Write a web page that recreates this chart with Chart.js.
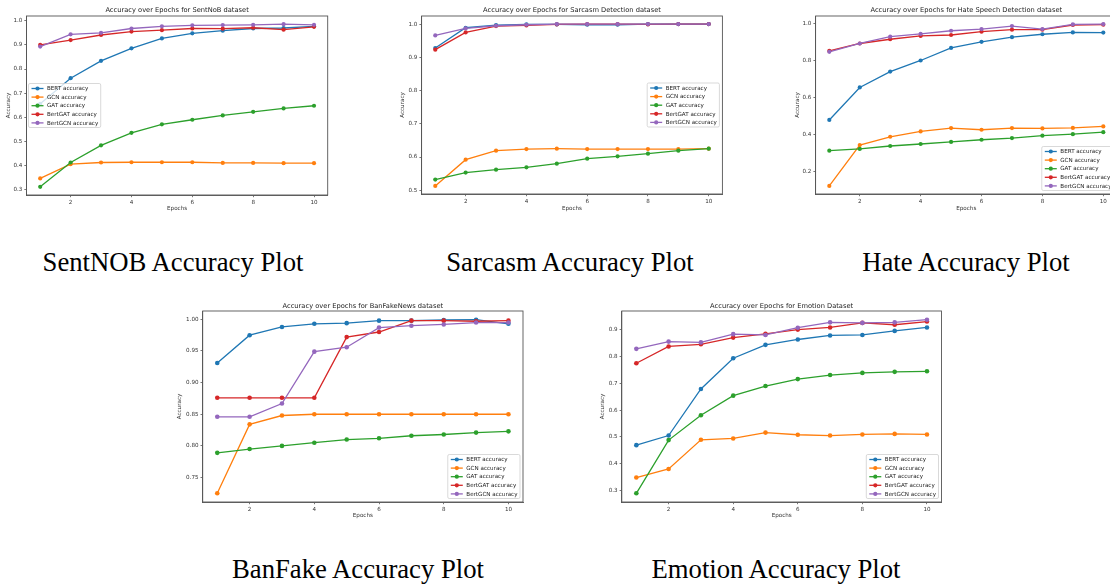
<!DOCTYPE html>
<html>
<head>
<meta charset="utf-8">
<script src="https://cdn.jsdelivr.net/npm/chart.js@4.4.0/dist/chart.umd.min.js"></script>
<style>
html,body{margin:0;padding:0;overflow:hidden}
body{width:1110px;height:584px;background:#fff;position:relative}
canvas{position:absolute}
.cap{position:absolute;font-family:"Liberation Serif","Times New Roman",serif;font-size:26.7px;line-height:26px;white-space:nowrap;transform:translateX(-50%);color:#000}
</style>
</head>
<body>
<canvas id="c1"></canvas>
<canvas id="c2"></canvas>
<canvas id="c3"></canvas>
<canvas id="c4"></canvas>
<canvas id="c5"></canvas>
<div class="cap" style="left:173px;top:249px">SentNOB Accuracy Plot</div>
<div class="cap" style="left:570px;top:249px">Sarcasm Accuracy Plot</div>
<div class="cap" style="left:966px;top:249px">Hate Accuracy Plot</div>
<div class="cap" style="left:358px;top:556px">BanFake Accuracy Plot</div>
<div class="cap" style="left:776px;top:556px">Emotion Accuracy Plot</div>
<script>
const epochs = [1, 2, 3, 4, 5, 6, 7, 8, 9, 10];
const epochTicks = [2, 4, 6, 8, 10];
const seriesNames = ["BERT accuracy", "GCN accuracy", "GAT accuracy", "BertGAT accuracy", "BertGCN accuracy"];
const seriesColors = ["#1f77b4", "#ff7f0e", "#2ca02c", "#d62728", "#9467bd"];

// SentNoB
const sentBert    = [0.656, 0.762, 0.834, 0.886, 0.927, 0.948, 0.959, 0.968, 0.970, 0.977];
const sentGcn     = [0.347, 0.406, 0.413, 0.414, 0.414, 0.414, 0.411, 0.411, 0.410, 0.410];
const sentGat     = [0.312, 0.413, 0.484, 0.536, 0.571, 0.590, 0.608, 0.623, 0.637, 0.648];
const sentBertGat = [0.900, 0.920, 0.941, 0.955, 0.961, 0.968, 0.967, 0.971, 0.963, 0.975];
const sentBertGcn = [0.893, 0.944, 0.950, 0.968, 0.977, 0.981, 0.982, 0.983, 0.986, 0.983];
const sentTicks   = [0.3, 0.4, 0.5, 0.6, 0.7, 0.8, 0.9, 1.0];

// Sarcasm
const sarcBert    = [0.928, 0.989, 0.997, 0.999, 0.999, 0.998, 0.998, 1.0, 1.0, 1.0];
const sarcGcn     = [0.513, 0.592, 0.619, 0.624, 0.625, 0.624, 0.624, 0.624, 0.624, 0.625];
const sarcGat     = [0.532, 0.553, 0.562, 0.569, 0.580, 0.595, 0.602, 0.610, 0.619, 0.625];
const sarcBertGat = [0.923, 0.975, 0.994, 0.996, 0.999, 1.0, 1.0, 0.999, 1.0, 1.0];
const sarcBertGcn = [0.966, 0.987, 0.995, 0.998, 1.0, 1.0, 1.0, 1.0, 1.0, 1.0];
const sarcTicks   = [0.5, 0.6, 0.7, 0.8, 0.9, 1.0];

// Hate speech
const hateBert    = [0.479, 0.655, 0.741, 0.801, 0.869, 0.902, 0.927, 0.943, 0.953, 0.952];
const hateGcn     = [0.122, 0.343, 0.388, 0.417, 0.435, 0.426, 0.435, 0.433, 0.436, 0.444];
const hateGat     = [0.313, 0.322, 0.338, 0.349, 0.360, 0.372, 0.381, 0.394, 0.402, 0.413];
const hateBertGat = [0.853, 0.893, 0.916, 0.934, 0.939, 0.957, 0.968, 0.968, 0.993, 0.995];
const hateBertGcn = [0.848, 0.893, 0.930, 0.945, 0.962, 0.971, 0.987, 0.971, 0.996, 0.998];
const hateTicks   = [0.2, 0.4, 0.6, 0.8, 1.0];

// BanFakeNews
const fakeBert    = [0.931, 0.975, 0.988, 0.993, 0.994, 0.998, 0.998, 0.999, 0.9995, 0.993];
const fakeGcn     = [0.725, 0.834, 0.848, 0.850, 0.850, 0.850, 0.850, 0.850, 0.850, 0.850];
const fakeGat     = [0.789, 0.795, 0.800, 0.805, 0.810, 0.812, 0.816, 0.818, 0.821, 0.823];
const fakeBertGat = [0.876, 0.876, 0.876, 0.876, 0.972, 0.980, 0.998, 0.998, 0.997, 0.998];
const fakeBertGcn = [0.846, 0.846, 0.867, 0.949, 0.956, 0.987, 0.990, 0.992, 0.995, 0.995];
const fakeTicks   = [0.75, 0.80, 0.85, 0.90, 0.95, 1.00];

// Emotion
const emoBert    = [0.469, 0.505, 0.679, 0.794, 0.844, 0.864, 0.879, 0.881, 0.896, 0.909];
const emoGcn     = [0.348, 0.380, 0.489, 0.494, 0.516, 0.508, 0.505, 0.509, 0.511, 0.509];
const emoGat     = [0.289, 0.488, 0.581, 0.654, 0.690, 0.716, 0.731, 0.739, 0.743, 0.745];
const emoBertGat = [0.775, 0.838, 0.846, 0.871, 0.885, 0.901, 0.909, 0.926, 0.919, 0.931];
const emoBertGcn = [0.829, 0.856, 0.853, 0.884, 0.881, 0.908, 0.928, 0.926, 0.928, 0.938];
const emoTicks   = [0.3, 0.4, 0.5, 0.6, 0.7, 0.8, 0.9];

const FONT = '"DejaVu Sans", sans-serif';

// axes frame (top/right spines too)
const spines = {
  id: 'spines',
  afterDatasetsDraw(chart) {
    const {ctx, chartArea: a} = chart;
    ctx.save();
    ctx.strokeStyle = '#555';
    ctx.lineWidth = 0.9;
    ctx.strokeRect(a.left, a.top, a.width, a.height);
    ctx.restore();
  }
};

// matplotlib-like legend drawn inside the axes
const boxLegend = {
  id: 'boxLegend',
  afterDatasetsDraw(chart, args, opts) {
    const {ctx, chartArea: a} = chart;
    const sets = chart.data.datasets;
    const fs = 5.6, rowH = 8.6;
    ctx.save();
    ctx.font = fs + 'px ' + FONT;
    const tw = Math.max(...sets.map(d => ctx.measureText(d.label).width));
    const w = 3 + 12 + 3.5 + tw + 2.5;
    const h = rowH * (sets.length - 1) + 9.6;
    const x = opts.loc.includes('left') ? a.left + 2 : a.right - 3 - w;
    const y = opts.loc.includes('lower') ? a.bottom - 3.5 - h : (a.top + a.bottom) / 2 - h / 2;
    ctx.fillStyle = 'rgba(255,255,255,0.8)';
    ctx.strokeStyle = '#cfcfcf';
    ctx.lineWidth = 0.8;
    ctx.beginPath();
    ctx.roundRect(x, y, w, h, 1.5);
    ctx.fill();
    ctx.stroke();
    sets.forEach((d, i) => {
      const ry = y + 5 + i * rowH;
      ctx.strokeStyle = d.borderColor;
      ctx.lineWidth = 1.3;
      ctx.beginPath();
      ctx.moveTo(x + 3, ry);
      ctx.lineTo(x + 15, ry);
      ctx.stroke();
      ctx.fillStyle = d.borderColor;
      ctx.beginPath();
      ctx.arc(x + 9, ry, 2.1, 0, Math.PI * 2);
      ctx.fill();
      ctx.fillStyle = '#222';
      ctx.textBaseline = 'middle';
      ctx.fillText(d.label, x + 18.5, ry + 0.3);
    });
    ctx.restore();
  }
};

function makeChart(p) {
  const el = document.getElementById(p.id);
  el.width = p.canvas.w;
  el.height = p.canvas.h;
  el.style.left = p.canvas.left + 'px';
  el.style.top = p.canvas.top + 'px';

  const all = p.series.flat();
  const lo = Math.min(...all), hi = Math.max(...all);
  const m = (hi - lo) * 0.05;
  const titleSize = 6.7, lh = titleSize * 1.2;
  const tPadTop = p.titleY - p.canvas.top - lh / 2;
  const tPadBot = p.box.t - p.canvas.top - tPadTop - lh;
  const labelLH = 5.6 * 1.2;

  const tickFont = {family: FONT, size: 5.6};
  new Chart(el, {
    type: 'line',
    data: {
      datasets: p.series.map((vals, i) => ({
        label: seriesNames[i],
        data: epochs.map((e, k) => ({x: e, y: vals[k]})),
        borderColor: seriesColors[i],
        backgroundColor: seriesColors[i],
        borderWidth: 1.3,
        pointRadius: p.marker,
        pointBorderWidth: 0,
        tension: 0,
        fill: false,
        order: seriesNames.length - 1 - i
      }))
    },
    options: {
      responsive: false,
      animation: false,
      devicePixelRatio: 1,
      layout: {padding: {left: 0, top: 0, bottom: 0, right: p.canvas.left + p.canvas.w - p.box.r}},
      plugins: {
        legend: {display: false},
        tooltip: {enabled: false},
        title: {
          display: true, text: p.title, fullSize: false, color: '#222',
          font: {family: FONT, size: titleSize, weight: 'normal', lineHeight: 1.2},
          padding: {top: tPadTop, bottom: tPadBot}
        },
        boxLegend: {loc: p.loc}
      },
      scales: {
        x: {
          type: 'linear', min: 0.55, max: 10.45,
          afterBuildTicks: s => { s.ticks = epochTicks.map(v => ({value: v})); },
          afterFit: s => { s.height = p.canvas.top + p.canvas.h - p.box.b; },
          grid: {display: true, drawOnChartArea: false, drawTicks: true, tickLength: 2.2, tickColor: '#555', tickWidth: 0.8},
          border: {display: true, color: '#555', width: 0.9},
          ticks: {font: tickFont, color: '#333', padding: 1.8, maxRotation: 0, autoSkip: false},
          title: {display: true, text: 'Epochs', color: '#333', font: {family: FONT, size: 5.6, lineHeight: 1.2},
                  padding: {top: 0, bottom: p.canvas.top + p.canvas.h - p.xlabelY - labelLH / 2}}
        },
        y: {
          type: 'linear', min: lo - m, max: hi + m,
          afterBuildTicks: s => { s.ticks = p.yTicks.map(v => ({value: v})); },
          afterFit: s => { s.width = p.box.l - p.canvas.left; },
          grid: {display: true, drawOnChartArea: false, drawTicks: true, tickLength: 2.2, tickColor: '#555', tickWidth: 0.8},
          border: {display: true, color: '#555', width: 0.9},
          ticks: {font: tickFont, color: '#333', padding: 2, autoSkip: false,
                  callback: v => Number(v).toFixed(p.dec)},
          title: {display: true, text: 'Accuracy', color: '#333', font: {family: FONT, size: 5.6, lineHeight: 1.2},
                  padding: {top: p.ylabelX - p.canvas.left - labelLH / 2, bottom: 0}}
        }
      }
    },
    plugins: [spines, boxLegend]
  });
}

const panels = [
  {id: 'c1', title: 'Accuracy over Epochs for SentNoB dataset',
   series: [sentBert, sentGcn, sentGat, sentBertGat, sentBertGcn], yTicks: sentTicks, dec: 1, loc: 'center left', marker: 2.1,
   canvas: {left: 0, top: 0, w: 345, h: 215}, box: {l: 26.5, r: 327.7, t: 16, b: 195}, titleY: 10, xlabelY: 209, ylabelX: 9},
  {id: 'c2', title: 'Accuracy over Epochs for Sarcasm Detection dataset',
   series: [sarcBert, sarcGcn, sarcGat, sarcBertGat, sarcBertGcn], yTicks: sarcTicks, dec: 1, loc: 'center right', marker: 2.1,
   canvas: {left: 370, top: 0, w: 370, h: 215}, box: {l: 421.6, r: 722.4, t: 16, b: 194}, titleY: 10, xlabelY: 209, ylabelX: 403},
  {id: 'c3', title: 'Accuracy over Epochs for Hate Speech Detection dataset',
   series: [hateBert, hateGcn, hateGat, hateBertGat, hateBertGcn], yTicks: hateTicks, dec: 1, loc: 'lower right', marker: 2.1,
   canvas: {left: 740, top: 0, w: 395, h: 215}, box: {l: 815.6, r: 1117, t: 16, b: 194}, titleY: 10, xlabelY: 209, ylabelX: 798},
  {id: 'c4', title: 'Accuracy over Epochs for BanFakeNews dataset',
   series: [fakeBert, fakeGcn, fakeGat, fakeBertGat, fakeBertGcn], yTicks: fakeTicks, dec: 2, loc: 'lower right', marker: 2.3,
   canvas: {left: 160, top: 295, w: 370, h: 230}, box: {l: 202.7, r: 523, t: 311, b: 502}, titleY: 306, xlabelY: 516, ylabelX: 180},
  {id: 'c5', title: 'Accuracy over Epochs for Emotion Dataset',
   series: [emoBert, emoGcn, emoGat, emoBertGat, emoBertGcn], yTicks: emoTicks, dec: 1, loc: 'lower right', marker: 2.3,
   canvas: {left: 580, top: 295, w: 370, h: 230}, box: {l: 621.8, r: 941.5, t: 311, b: 502}, titleY: 306, xlabelY: 516, ylabelX: 602.7}
];

panels.forEach(makeChart);
</script>
</body>
</html>
